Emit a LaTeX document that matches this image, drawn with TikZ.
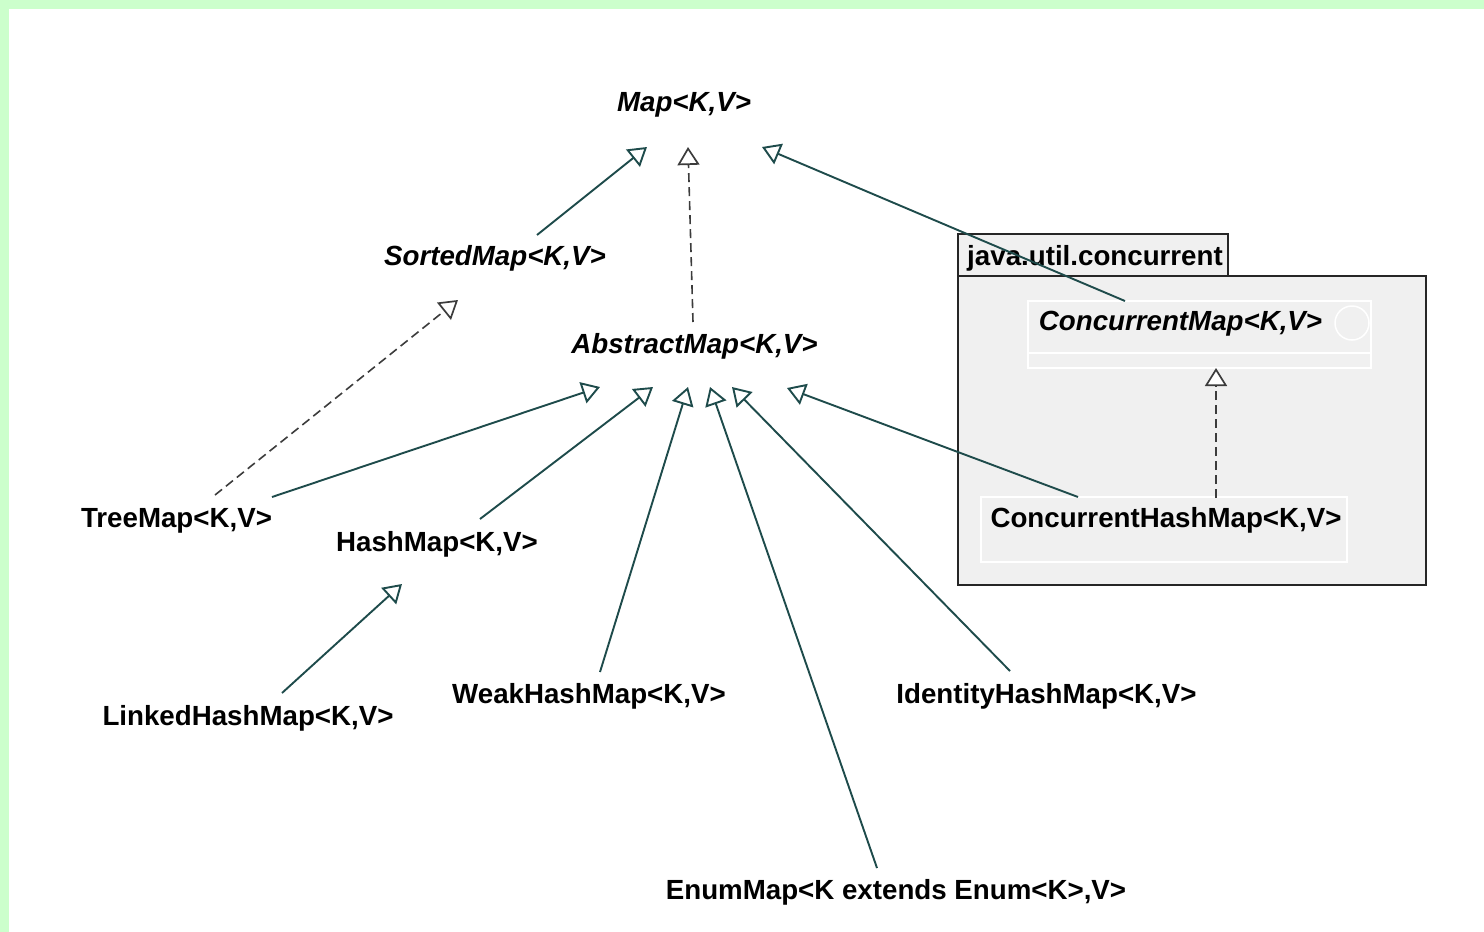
\documentclass[tikz,border=0pt]{standalone}
\usepackage{fontspec}
\setmainfont{Liberation Sans}
\usetikzlibrary{arrows.meta}

\definecolor{pagegreen}{HTML}{CCFFCC}
\definecolor{linkteal}{HTML}{1E4B4B}
\definecolor{dashgray}{HTML}{3C3C3C}
\definecolor{pkgfill}{HTML}{F0F0F0}
\definecolor{pkgline}{HTML}{262626}

\begin{document}
\begin{tikzpicture}[x=1pt,y=-1pt,
  cls/.style={anchor=base, inner sep=0pt, font=\fontsize{27.7}{33}\selectfont\bfseries},
  iface/.style={anchor=base, inner sep=0pt, font=\fontsize{27.7}{33}\selectfont\bfseries\itshape},
  pkgbox/.style={draw=pkgline, fill=pkgfill, line width=1.8pt},
  innerbox/.style={draw=white, line width=1.5pt},
  extends/.style={draw=linkteal, line width=1.9pt,
    -{Triangle[length=18pt, width=22pt, fill=white, line width=1.9pt]}},
  realizes/.style={draw=dashgray, line width=1.6pt, dash pattern=on 9pt off 5pt,
    -{Triangle[length=18pt, width=22pt, fill=white, line width=1.7pt]}}
]
% page background with its green frame
\fill[pagegreen] (0,0) rectangle (1484,932);
\fill[white] (9,9) rectangle (1484,932);
\useasboundingbox (0,0) rectangle (1484,932);

% package java.util.concurrent
\draw[pkgbox] (958,234) rectangle (1228,276);
\draw[pkgbox] (958,276) rectangle (1426,585);
\node[cls] (pkg) at (1095,265) {java.util.concurrent};
\draw[innerbox] (1028,301) rectangle (1371,368);
\draw[innerbox] (1028,353) -- (1371,353);
\draw[innerbox] (1352,323) circle (17);
\draw[innerbox] (981,497) rectangle (1347,562);

% classes and interfaces
\node[iface] (map)    at (684,111)   {Map<K,V>};
\node[iface] (sorted) at (495,265)   {SortedMap<K,V>};
\node[iface] (abs)    at (694.5,353) {AbstractMap<K,V>};
\node[cls]   (tree)   at (176.5,527) {TreeMap<K,V>};
\node[cls]   (hash)   at (437,551)   {HashMap<K,V>};
\node[cls]   (linked) at (248,725)   {LinkedHashMap<K,V>};
\node[cls]   (weak)   at (589,703)   {WeakHashMap<K,V>};
\node[cls]   (ident)  at (1046.5,703){IdentityHashMap<K,V>};
\node[cls]   (enum)   at (896,899)   {EnumMap<K extends Enum<K>,V>};
\node[iface] (cmap)   at (1180.5,330){ConcurrentMap<K,V>};
\node[cls]   (chm)    at (1166,527)  {ConcurrentHashMap<K,V>};

% inheritance and realization
\draw[extends]  ([shift={(42,-30)}]sorted.base)   -- ([shift={(-37,36)}]map.base);
\draw[realizes] ([shift={(-1.5,-31)}]abs.base)    -- ([shift={(4,36)}]map.base);
\draw[extends]  ([shift={(-55.5,-29)}]cmap.base)  -- ([shift={(78,36)}]map.base);
\draw[realizes] ([shift={(38.5,-32)}]tree.base)   -- ([shift={(-37,35)}]sorted.base);
\draw[extends]  ([shift={(95.5,-30)}]tree.base)   -- ([shift={(-94.5,34)}]abs.base);
\draw[extends]  ([shift={(43,-32)}]hash.base)     -- ([shift={(-41.5,34)}]abs.base);
\draw[extends]  ([shift={(34,-32)}]linked.base)   -- ([shift={(-35,33)}]hash.base);
\draw[extends]  ([shift={(11,-31)}]weak.base)     -- ([shift={(-6.5,34)}]abs.base);
\draw[extends]  ([shift={(-19,-31)}]enum.base)    -- ([shift={(15.5,34)}]abs.base);
\draw[extends]  ([shift={(-36.5,-32)}]ident.base) -- ([shift={(37.5,34)}]abs.base);
\draw[extends]  ([shift={(-88,-30)}]chm.base)     -- ([shift={(92.5,35)}]abs.base);
\draw[realizes] ([shift={(50,-29)}]chm.base)      -- ([shift={(35.5,38)}]cmap.base);
\end{tikzpicture}
\end{document}
